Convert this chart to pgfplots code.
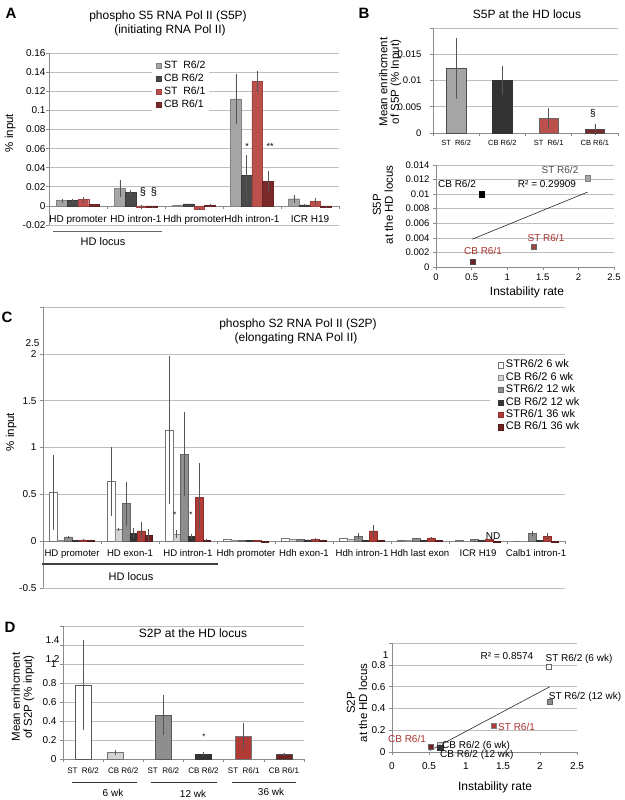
\documentclass[border=0pt]{standalone}
\usepackage{pgfplots}
\pgfplotsset{compat=1.18}
\usepackage{fontspec}
\setmainfont{Liberation Sans}
\definecolor{aST62}{HTML}{A5A5A5}
\definecolor{aCB62}{HTML}{4A4A4A}
\definecolor{aST61}{HTML}{BC504C}
\definecolor{aCB61}{HTML}{7A2A2A}
\definecolor{cLG}{HTML}{D3D3D3}
\definecolor{cG}{HTML}{8E8E8E}
\definecolor{cDK}{HTML}{333333}
\definecolor{cR}{HTML}{B03B37}
\definecolor{cDR}{HTML}{6E2222}
\definecolor{gridc}{HTML}{BDBDBD}
\definecolor{axc}{HTML}{8C8C8C}
\definecolor{errc}{HTML}{555555}
\definecolor{lblred}{HTML}{A8322E}
\newcommand{\fs}[1]{\fontsize{#1}{#1}\selectfont}
\pgfplotsset{
  base/.style={
    scale only axis, anchor=south west,
    axis y line*=left, axis x line*=bottom,
    axis line style={-, draw=axc, line width=0.6pt},
    ymajorgrids, grid style={draw=gridc, line width=0.6pt},
    tick style={draw=axc, line width=0.6pt},
    tick align=outside, major tick length=3pt,
    scaled ticks=false,
    clip=false,
  },
  sq/.style={legend image code/.code={\draw[##1, line width=0.4pt] (0pt,-2.6pt) rectangle (5.2pt,2.6pt); \path (7.5pt,0pt);}},
  eb/.style={error bars/.cd, y dir=both, y explicit, error mark=none, error bar style={draw=errc, line width=0.7pt, xshift=#1}},
  eb/.default=0pt,
}
\begin{document}
\begin{tikzpicture}
\path[use as bounding box] (0,0) rectangle (624pt,-800pt);
% ---------------- A ----------------
\begin{axis}[base, width=290pt, height=172pt, at={(49pt,-225pt)},
  xmin=-0.5, xmax=4.5, ymin=-0.02, ymax=0.16,
  axis x line*=middle, tick align=outside,
  xtick={-0.5,0.5,1.5,2.5,3.5,4.5}, xticklabels={},
  extra x ticks={0,1,2,3,4},
  extra x tick labels={HD promoter,HD intron-1,Hdh promoter,Hdh intron-1,ICR H19},
  extra x tick style={major tick length=0pt},
  ytick={-0.02,0,0.02,0.04,0.06,0.08,0.1,0.12,0.14,0.16},
  yticklabels={-0.02,0,0.02,0.04,0.06,0.08,0.1,0.12,0.14,0.16},
  xticklabel style={font=\fs{10}, yshift=-6pt}, yticklabel style={font=\fs{10}, xshift=3pt},
  ylabel={\% input}, ylabel style={at={(axis description cs:-0.134,0.535)}, anchor=center, font=\fs{11.5}},
  legend style={at={(axis description cs:0.355,0.965)}, anchor=north west, fill=white, draw=none,
    inner xsep=4pt, inner ysep=1pt, font=\fs{10.5},
    nodes={inner sep=0pt, text height=7.8pt, text depth=2.6pt}, row sep=2.6pt},
  legend cell align=left,
]
\addplot[ybar, bar width=10.7pt, bar shift=-16.05pt, fill=aST62, draw=aST62!80!black, line width=0.4pt, sq, eb=-16.05pt]
 coordinates {(0,0.0055)+-(0,0.002) (1,0.018)+-(0,0.009) (2,0.0005)+-(0,0.0008) (3,0.112)+-(0,0.026) (4,0.0075)+-(0,0.004)};
\addlegendentry{ST\ \ R6/2}
\addplot[ybar, bar width=10.7pt, bar shift=-5.35pt, fill=aCB62, draw=aCB62!80!black, line width=0.4pt, sq, eb=-5.35pt]
 coordinates {(0,0.0055)+-(0,0.002) (1,0.014)+-(0,0.003) (2,0.002)+-(0,0.0005) (3,0.032)+-(0,0.021) (4,0.001)+-(0,0.0005)};
\addlegendentry{CB R6/2}
\addplot[ybar, bar width=10.7pt, bar shift=5.35pt, fill=aST61, draw=aST61!85!black, line width=0.4pt, sq, eb=5.35pt]
 coordinates {(0,0.0065)+-(0,0.003) (1,-0.0015)+-(0,0.002) (2,-0.003)+-(0,0.001) (3,0.130)+-(0,0.011) (4,0.0045)+-(0,0.004)};
\addlegendentry{ST\ \ R6/1}
\addplot[ybar, bar width=10.7pt, bar shift=16.05pt, fill=aCB61, draw=aCB61!85!black, line width=0.4pt, sq, eb=16.05pt]
 coordinates {(0,0.0015)+-(0,0.001) (1,-0.001)+-(0,0.0005) (2,0.0005)+-(0,0.001) (3,0.026)+-(0,0.010) (4,-0.0015)+-(0,0.001)};
\addlegendentry{CB R6/1}
\end{axis}
\node[font=\bfseries\fs{15}] at (11pt,-13pt) {A};
\node[font=\fs{12}] at (168pt,-16pt) {phospho S5 RNA Pol II (S5P)};
\node[font=\fs{12}] at (170pt,-30pt) {(initiating RNA Pol II)};
\draw[line width=1pt, black!60] (53pt,-231pt) -- (162pt,-231pt);
\node[font=\fs{11}] at (103pt,-242pt) {HD locus};
\node[font=\fs{11}] at (143pt,-192pt) {§};
\node[font=\fs{11}] at (154pt,-192pt) {§};
\node[font=\fs{9}] at (247pt,-146pt) {*};
\node[font=\fs{9}] at (270pt,-146pt) {**};
% ---------------- B bars ----------------
\begin{axis}[base, width=185pt, height=105pt, at={(433pt,-133pt)},
  xmin=-0.5, xmax=3.5, ymin=0, ymax=0.02,
  xtick={-0.5,0.5,1.5,2.5,3.5}, xticklabels={},
  extra x ticks={0,1,2,3},
  extra x tick labels={ST\ \ R6/2,CB R6/2,ST\ \ R6/1,CB R6/1},
  extra x tick style={major tick length=0pt},
  ytick={0,0.005,0.01,0.015,0.02}, yticklabels={0,0.005,0.01,0.015,{}},
  xticklabel style={font=\fs{7.5}, yshift=-4pt}, yticklabel style={font=\fs{9.5}, xshift=-5pt},
  ylabel={Mean enrihcment\\of S5P (\% Input)},
  ylabel style={at={(axis description cs:-0.232,0.486)}, anchor=center, align=center, font=\fontsize{11.5}{11.5}\selectfont},
]
\addplot[ybar, bar width=19.3pt, fill=aST62, draw=black!70, line width=0.5pt, eb] coordinates {(0,0.0123)+-(0,0.0058)};
\addplot[ybar, bar width=19.3pt, fill=cDK, draw=black!80, line width=0.5pt, eb] coordinates {(1,0.0100)+-(0,0.0028)};
\addplot[ybar, bar width=19.3pt, fill=aST61, draw=black!60, line width=0.5pt, eb] coordinates {(2,0.0028)+-(0,0.0020)};
\addplot[ybar, bar width=19.3pt, fill=aCB61, draw=black!70, line width=0.5pt, eb] coordinates {(3,0.0007)+-(0,0.0011)};
\end{axis}
\node[font=\bfseries\fs{15}] at (364pt,-13pt) {B};
\node[font=\fs{12}] at (527pt,-14pt) {S5P at the HD locus};
\node[font=\fs{10}] at (593pt,-113pt) {§};
% ---------------- B scatter ----------------
\begin{axis}[base, width=178pt, height=102pt, at={(436pt,-267pt)},
  xmin=0, xmax=2.5, ymin=0, ymax=0.014,
  xtick={0,0.5,1,1.5,2,2.5}, xticklabels={0,0.5,1,1.5,2,2.5},
  ytick={0,0.002,0.004,0.006,0.008,0.01,0.012,0.014},
  yticklabels={0,0.002,0.004,0.006,0.008,0.01,0.012,0.014},
  xticklabel style={font=\fs{9.5}}, yticklabel style={font=\fs{9.5}},
  xlabel={Instability rate}, xlabel style={at={(axis description cs:0.511,-0.245)}, anchor=center, font=\fs{12}},
  ylabel={S5P\\at the HD locus},
  ylabel style={at={(axis description cs:-0.298,0.608)}, anchor=center, align=center, font=\fontsize{11.5}{12}\selectfont},
]
\addplot[black!85, line width=0.6pt] coordinates {(0.51,0.00382) (2.13,0.01029)};
\addplot[only marks, mark=square*, mark size=2.6pt, mark options={fill=aST62, draw=black!50}] coordinates {(2.13,0.0122)};
\addplot[only marks, mark=square*, mark size=2.6pt, mark options={fill=black, draw=black}] coordinates {(0.64,0.0100)};
\addplot[only marks, mark=square*, mark size=2.6pt, mark options={fill=aST61!85!black, draw=black!60}] coordinates {(1.37,0.0028)};
\addplot[only marks, mark=square*, mark size=2.6pt, mark options={fill=cDR, draw=black!70}] coordinates {(0.51,0.0007)};
\end{axis}
\node[font=\fs{10}, text=black!70] at (560pt,-170pt) {ST R6/2};
\node[font=\fs{10}] at (457pt,-184pt) {CB R6/2};
\node[font=\fs{10}] at (547pt,-184pt) {R² = 0.29909};
\node[font=\fs{10}, text=lblred] at (546pt,-238pt) {ST R6/1};
\node[font=\fs{10}, text=lblred] at (483pt,-251pt) {CB R6/1};
% ---------------- C ----------------
\begin{axis}[base, width=522pt, height=281pt, at={(43pt,-588pt)},
  xmin=-0.5, xmax=8.5, ymin=-0.5, ymax=2.5,
  axis x line*=middle, tick align=outside,
  xtick={-0.5,0.5,1.5,2.5,3.5,4.5,5.5,6.5,7.5,8.5}, xticklabels={},
  extra x ticks={0,1,2,3,4,5,6,7,8},
  extra x tick labels={HD promoter,HD exon-1,HD intron-1,Hdh promoter,Hdh exon-1,Hdh intron-1,Hdh last exon,ICR H19,Calb1 intron-1},
  extra x tick style={major tick length=0pt},
  ytick={-0.5,0,0.5,1,1.5,2,2.5}, yticklabels={-0.5,0,0.5,1,1.5,2,{}},
  extra y ticks={2.116}, extra y tick labels={2.5}, extra y tick style={grid=none, major tick length=0pt},
  xticklabel style={font=\fs{9.6}, yshift=-5pt}, yticklabel style={font=\fs{10}},
  ylabel={\% input}, ylabel style={at={(axis description cs:-0.061,0.555)}, anchor=center, font=\fs{11.5}},
  legend style={at={(axis description cs:0.856,0.822)}, anchor=north west, fill=white, draw=none,
    inner xsep=8pt, inner ysep=3pt, font=\fs{11},
    nodes={inner sep=0pt, text height=7.6pt, text depth=2.4pt}, row sep=2.4pt},
  legend cell align=left,
]
\addplot[ybar, bar width=7.5pt, bar shift=-18.75pt, fill=white, draw=black!55, line width=0.5pt, sq, eb=-18.75pt]
 coordinates {(0,0.52)+-(0,0.40) (1,0.64)+-(0,0.37) (2,1.185)+-(0,0.79) (3,0.02)+-(0,0) (4,0.035)+-(0,0) (5,0.035)+-(0,0) (6,0.015)+-(0,0) (7,0.01)+-(0,0) (8,0)+-(0,0)};
\addlegendentry{STR6/2 6 wk}
\addplot[ybar, bar width=7.5pt, bar shift=-11.25pt, fill=cLG, draw=black!45, line width=0.5pt, sq, eb=-11.25pt]
 coordinates {(0,0.01)+-(0,0) (1,0.125)+-(0,0.015) (2,0.075)+-(0,0.045) (3,0.012)+-(0,0) (4,0.02)+-(0,0) (5,0.02)+-(0,0) (6,0.005)+-(0,0) (7,0.0)+-(0,0) (8,0)+-(0,0)};
\addlegendentry{CB R6/2 6 wk}
\addplot[ybar, bar width=7.5pt, bar shift=-3.75pt, fill=cG, draw=black!60, line width=0.5pt, sq, eb=-3.75pt]
 coordinates {(0,0.045)+-(0,0.015) (1,0.40)+-(0,0.235) (2,0.93)+-(0,0.445) (3,0.012)+-(0,0) (4,0.02)+-(0,0.008) (5,0.055)+-(0,0.03) (6,0.03)+-(0,0.008) (7,0.02)+-(0,0.005) (8,0.08)+-(0,0.025)};
\addlegendentry{STR6/2 12 wk}
\addplot[ybar, bar width=7.5pt, bar shift=3.75pt, fill=cDK, draw=black!80, line width=0.5pt, sq, eb=3.75pt]
 coordinates {(0,0.01)+-(0,0) (1,0.085)+-(0,0.055) (2,0.055)+-(0,0.025) (3,0.01)+-(0,0) (4,0.015)+-(0,0) (5,0.01)+-(0,0) (6,0.005)+-(0,0) (7,0.005)+-(0,0) (8,0.01)+-(0,0)};
\addlegendentry{CB R6/2 12 wk}
\addplot[ybar, bar width=7.5pt, bar shift=11.25pt, fill=cR, draw=cR!80!black, line width=0.5pt, sq, eb=11.25pt]
 coordinates {(0,0.015)+-(0,0.01) (1,0.11)+-(0,0.09) (2,0.47)+-(0,0.36) (3,0.01)+-(0,0) (4,0.02)+-(0,0.015) (5,0.11)+-(0,0.065) (6,0.035)+-(0,0.01) (7,0.02)+-(0,0.005) (8,0.055)+-(0,0.03)};
\addlegendentry{STR6/1 36 wk}
\addplot[ybar, bar width=7.5pt, bar shift=18.75pt, fill=cDR, draw=cDR!80!black, line width=0.5pt, sq, eb=18.75pt]
 coordinates {(0,0.01)+-(0,0) (1,0.06)+-(0,0.07) (2,0.01)+-(0,0.01) (3,-0.01)+-(0,0) (4,0.01)+-(0,0) (5,0.01)+-(0,0) (6,0.01)+-(0,0) (7,-0.01)+-(0,0) (8,-0.01)+-(0,0)};
\addlegendentry{CB R6/1 36 wk}
\end{axis}
\node[font=\bfseries\fs{15}] at (7pt,-317pt) {C};
\node[font=\fs{12}] at (298pt,-324pt) {phospho S2 RNA Pol II (S2P)};
\node[font=\fs{12}] at (296pt,-338pt) {(elongating RNA Pol II)};
\draw[line width=1.2pt, black!75] (42pt,-564pt) -- (218pt,-564pt);
\node[font=\fs{11}] at (131pt,-577pt) {HD locus};
\node[font=\fs{8}] at (175pt,-515pt) {*};
\node[font=\fs{8}] at (191pt,-515pt) {*};
\node[font=\fs{10}] at (493pt,-536pt) {ND};
% ---------------- D bars ----------------
\begin{axis}[base, width=241pt, height=133pt, at={(63pt,-759pt)},
  xmin=-0.5, xmax=5.5, ymin=0, ymax=1.4,
  xtick={-0.5,0.5,1.5,2.5,3.5,4.5,5.5}, xticklabels={},
  extra x ticks={0,1,2,3,4,5},
  extra x tick labels={ST\ \ R6/2,CB R6/2,ST\ \ R6/2,CB R6/2,ST\ \ R6/1,CB R6/1},
  extra x tick style={major tick length=0pt},
  ytick={0,0.2,0.4,0.6,0.8,1,1.2,1.4}, yticklabels={0,0.2,0.4,0.6,0.8,1,{},{}},
  extra y ticks={1.056,1.249}, extra y tick labels={1.2,1.4}, extra y tick style={grid=none, major tick length=0pt},
  xticklabel style={font=\fs{8}, yshift=-5pt}, yticklabel style={font=\fs{10}},
  ylabel={Mean enrihcment\\of S2P (\% input)},
  ylabel style={at={(axis description cs:-0.166,0.466)}, anchor=center, align=center, font=\fontsize{11.5}{12}\selectfont},
]
\addplot[ybar, bar width=16pt, fill=white, draw=black!65, line width=0.6pt, eb] coordinates {(0,0.78)+-(0,0.475)};
\addplot[ybar, bar width=16pt, fill=cLG, draw=black!55, line width=0.6pt, eb] coordinates {(0.8,0.067)+-(0,0.03)};
\addplot[ybar, bar width=16pt, fill=cG, draw=black!65, line width=0.6pt, eb] coordinates {(2,0.46)+-(0,0.21)};
\addplot[ybar, bar width=16pt, fill=cDK, draw=black!80, line width=0.6pt, eb] coordinates {(3,0.053)+-(0,0.025)};
\addplot[ybar, bar width=16pt, fill=cR, draw=black!55, line width=0.6pt, eb] coordinates {(4,0.24)+-(0,0.135)};
\addplot[ybar, bar width=16pt, fill=cDR, draw=black!70, line width=0.6pt, eb] coordinates {(5,0.05)+-(0,0.015)};
\end{axis}
\node[font=\bfseries\fs{15}] at (10pt,-627pt) {D};
\node[font=\fs{12}] at (193pt,-633pt) {S2P at the HD locus};
\node[font=\fs{8}] at (204pt,-737pt) {*};
\draw[line width=0.8pt, black!80] (72pt,-782pt) -- (137pt,-782pt);
\draw[line width=0.8pt, black!80] (151pt,-782pt) -- (217pt,-782pt);
\draw[line width=0.8pt, black!80] (232pt,-782pt) -- (296pt,-782pt);
\node[font=\fs{10}] at (113pt,-793pt) {6 wk};
\node[font=\fs{10}] at (193pt,-794pt) {12 wk};
\node[font=\fs{10}] at (271pt,-792pt) {36 wk};
% ---------------- D scatter ----------------
\begin{axis}[base, width=185pt, height=109pt, at={(392pt,-752pt)},
  xmin=0, xmax=2.5, ymin=0, ymax=1,
  xtick={0,0.5,1,1.5,2,2.5}, xticklabels={0,0.5,1,1.5,2,2.5},
  ytick={0,0.2,0.4,0.6,0.8,1}, yticklabels={0,0.2,0.4,0.6,0.8,{}},
  extra y ticks={0.89}, extra y tick labels={1}, extra y tick style={grid=none, major tick length=0pt},
  xticklabel style={font=\fs{10}, yshift=-4pt}, yticklabel style={font=\fs{10}},
  xlabel={Instability rate}, xlabel style={at={(axis description cs:0.557,-0.321)}, anchor=center, font=\fs{12}},
  ylabel={S2P\\at the HD locus},
  ylabel style={at={(axis description cs:-0.189,0.45)}, anchor=center, align=center, font=\fontsize{11.5}{12}\selectfont},
]
\addplot[black!85, line width=0.6pt] coordinates {(0.51,0.0123) (2.13,0.598)};
\addplot[only marks, mark=square*, mark size=2.6pt, mark options={fill=white, draw=black!60}] coordinates {(2.12,0.785)};
\addplot[only marks, mark=square*, mark size=2.6pt, mark options={fill=cG, draw=black!60}] coordinates {(2.13,0.458)};
\addplot[only marks, mark=square*, mark size=2.6pt, mark options={fill=cR, draw=black!50}] coordinates {(1.37,0.243)};
\addplot[only marks, mark=square*, mark size=2.6pt, mark options={fill=cDR, draw=black!60}] coordinates {(0.52,0.046)};
\addplot[only marks, mark=square*, mark size=2.6pt, mark options={fill=cLG, draw=black!50}] coordinates {(0.65,0.068)};
\addplot[only marks, mark=square*, mark size=2.6pt, mark options={fill=cDK, draw=black!80}] coordinates {(0.65,0.043)};
\end{axis}
\node[font=\fs{10}] at (507pt,-656pt) {R² = 0.8574};
\node[font=\fs{10}] at (579pt,-659pt) {ST R6/2 (6 wk)};
\node[font=\fs{10}] at (585pt,-697pt) {ST R6/2 (12 wk)};
\node[font=\fs{10}, text=lblred, anchor=west, inner sep=0pt] at (498pt,-727pt) {ST R6/1};
\node[font=\fs{10}, text=lblred] at (407pt,-739pt) {CB R6/1};
\node[font=\fs{10}, anchor=west, inner sep=0pt] at (442pt,-746pt) {CB R6/2 (6 wk)};
\node[font=\fs{10}, anchor=west, inner sep=0pt] at (440pt,-755pt) {CB R6/2 (12 wk)};
\end{tikzpicture}
\end{document}
